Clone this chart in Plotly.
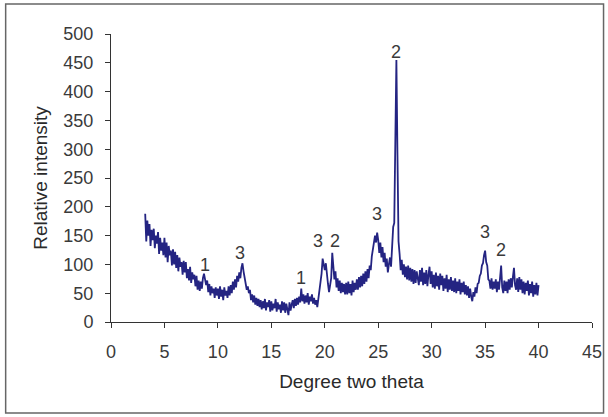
import plotly.graph_objects as go

# Sampling grid of the diffractogram (degrees two theta)
two_theta_start = 3.2
two_theta_step = 0.1

# Relative intensity, one value per 0.1 degree from 3.2 to 40.0
intensity = [
    188, 140, 176, 150, 170, 132, 160, 142,                 # 3.2-3.9
    162, 128, 150, 136, 156, 118, 146, 124, 138, 116,       # 4
    146, 112, 138, 104, 132, 116, 124, 98, 126, 100,        # 5
    122, 94, 116, 88, 112, 96, 104, 82, 106, 86,            # 6
    104, 76, 92, 72, 96, 68, 86, 74, 82, 62,                # 7
    80, 56, 72, 54, 70, 58, 76, 84, 74, 64,                 # 8
    72, 52, 66, 46, 62, 50, 58, 42, 60, 46,                 # 9
    58, 40, 62, 44, 56, 38, 60, 46, 54, 42,                 # 10
    62, 46, 64, 50, 70, 56, 74, 60, 80, 70,                 # 11
    86, 76, 94, 102, 88, 78, 68, 56, 62, 50,                # 12
    56, 38, 48, 34, 46, 30, 42, 28, 40, 26,                 # 13
    38, 22, 36, 24, 40, 20, 34, 26, 38, 18,                 # 14
    36, 20, 32, 24, 40, 18, 34, 22, 30, 16,                 # 15
    36, 20, 34, 16, 32, 24, 12, 34, 20, 30,                 # 16
    38, 24, 40, 28, 42, 30, 44, 34, 58, 36,                 # 17
    48, 32, 46, 34, 50, 30, 44, 36, 48, 32,                 # 18
    42, 30, 38, 26, 40, 46, 60, 84, 110, 96,                # 19
    90, 102, 78, 66, 52, 68, 76, 120, 94, 74,               # 20
    88, 60, 76, 54, 72, 50, 68, 52, 66, 48,                 # 21
    68, 48, 70, 50, 66, 46, 72, 52, 68, 56,                 # 22
    74, 56, 78, 60, 80, 62, 84, 66, 88, 70,                 # 23
    92, 76, 98, 90, 114, 124, 140, 150, 138, 155,           # 24
    142, 120, 138, 112, 130, 104, 120, 96, 110, 86,         # 25
    100, 112, 96, 122, 165, 172, 365, 455, 290, 140,        # 26
    118, 90, 108, 82, 100, 78, 96, 74, 98, 72,              # 27
    94, 70, 92, 66, 90, 68, 88, 74, 64, 90,                 # 28
    70, 94, 64, 86, 66, 90, 62, 82, 96, 66,                 # 29
    88, 60, 82, 58, 86, 62, 80, 56, 84, 64,                 # 30
    80, 54, 76, 58, 82, 52, 74, 56, 78, 54,                 # 31
    72, 52, 76, 50, 70, 54, 74, 48, 68, 52,                 # 32
    70, 48, 64, 46, 62, 42, 58, 44, 36, 52,                 # 33
    44, 60, 50, 66, 68, 80, 84, 98, 102, 116,               # 34
    124, 104, 98, 74, 72, 58, 76, 56, 70, 58,               # 35
    74, 52, 70, 56, 76, 98, 60, 50, 72, 54,                 # 36
    70, 50, 74, 56, 76, 60, 78, 94, 64, 56,                 # 37
    76, 52, 78, 56, 74, 50, 70, 48, 68, 54,                 # 38
    72, 46, 66, 50, 70, 44, 64, 48, 68, 46,                 # 39
    64,                                                     # 40
]

two_theta = [round(two_theta_start + two_theta_step * i, 2) for i in range(len(intensity))]

# Peak labels (phase numbers) and where they sit
peak_labels = ["1", "3", "1", "3", "2", "3", "2", "3", "2"]
peak_x = [8.8, 12.1, 17.8, 19.4, 21.0, 24.9, 26.7, 35.0, 36.5]
peak_y = [99, 120, 76, 141, 141, 188, 469, 156, 125]

x_ticks = [0, 5, 10, 15, 20, 25, 30, 35, 40, 45]
y_ticks = [0, 50, 100, 150, 200, 250, 300, 350, 400, 450, 500]

fig = go.Figure()
fig.add_trace(go.Scatter(
    x=two_theta, y=intensity, mode="lines",
    line=dict(color="rgb(36,36,130)", width=1.8),
    showlegend=False, hoverinfo="x+y",
))

for t, px, py in zip(peak_labels, peak_x, peak_y):
    fig.add_annotation(x=px, y=py, text=t, showarrow=False,
                       font=dict(family="Liberation Sans, Arial", size=18, color="#3a3a3a"))

fig.add_shape(type="rect", xref="paper", yref="paper",
              x0=-0.219, x1=1.024, y0=-0.316, y1=1.104,
              line=dict(color="#666666", width=1.5), fillcolor="rgba(0,0,0,0)")

axis_font = dict(family="Liberation Sans, Arial", size=18, color="#3a3a3a")
title_font = dict(family="Liberation Sans, Arial", size=19, color="#2a2a2a")

fig.update_layout(
    width=608, height=417,
    margin=dict(l=111, r=16, t=34, b=95, autoexpand=False),
    paper_bgcolor="white", plot_bgcolor="white",
    xaxis=dict(range=[0, 45], tickvals=x_ticks, showgrid=False, zeroline=False,
               showline=True, linecolor="#333333", linewidth=1, automargin=False,
               ticks="outside", ticklen=5, tickcolor="#333333",
               tickfont=axis_font, ticklabelstandoff=8,
               title=dict(text="Degree two theta", font=title_font, standoff=14)),
    yaxis=dict(range=[0, 500], tickvals=y_ticks, showgrid=False, zeroline=False,
               showline=True, linecolor="#333333", linewidth=1, automargin=False,
               ticks="outside", ticklen=5, tickcolor="#333333",
               tickfont=axis_font, ticklabelstandoff=8,
               title=dict(text="Relative intensity", font=title_font, standoff=10)),
)

fig.write_html("out.html", config={"displayModeBar": False},
               post_script="document.body.style.margin='0px';")
